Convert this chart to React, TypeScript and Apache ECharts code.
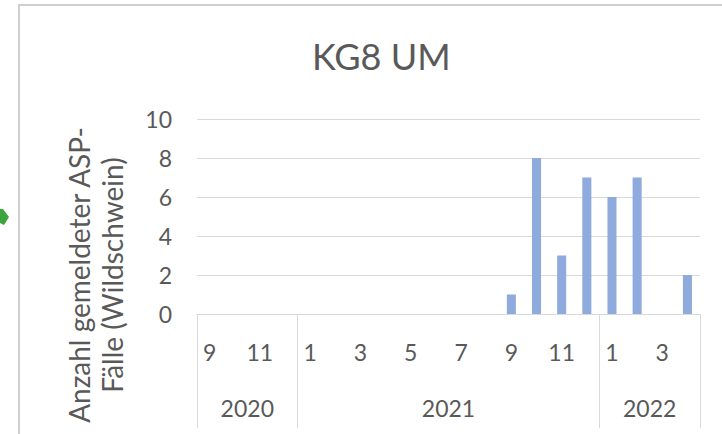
import React, { useEffect, useRef } from "react";
import * as echarts from "echarts";

// months of each category (Sept 2020 .. Apr 2022)
const months: string[] = [
  "9", "10", "11", "12",
  "1", "2", "3", "4", "5", "6", "7", "8", "9", "10", "11", "12",
  "1", "2", "3", "4",
];
const years: string[] = ["2020", "2021", "2022"];
const monthsPerYear: number[] = [4, 12, 4];
const cases: number[] = [
  0, 0, 0, 0,
  0, 0, 0, 0, 0, 0, 0, 0, 1, 8, 3, 7,
  6, 7, 0, 2,
];
const yMin = 0;
const yMax = 10;
const yInterval = 2;
const title = "KG8 UM";
const yTitle = "Anzahl gemeldeter ASP-\nFälle (Wildschwein)";

const FONT = "Lato, 'Open Sans', sans-serif";
const TEXT = "#595959";
const GRID = "#D9D9D9";

export default function App() {
  const ref = useRef<HTMLDivElement>(null);
  useEffect(() => {
    document.body.style.margin = "0";
    if (!ref.current) return;
    const chart = echarts.init(ref.current, undefined, { renderer: "svg" });

    // year boundaries and centres (in category units)
    const bounds: number[] = [0];
    const centres: number[] = [];
    monthsPerYear.forEach((n, i) => {
      centres.push(bounds[i] + n / 2);
      bounds.push(bounds[i] + n);
    });
    const total = bounds[bounds.length - 1];

    chart.setOption({
      animation: false,
      backgroundColor: "#ffffff",
      textStyle: { fontFamily: FONT },
      title: {
        text: title,
        left: 307,
        top: 33,
        textStyle: { color: TEXT, fontSize: 36, fontWeight: "normal", fontFamily: FONT },
      },
      grid: { left: 197, right: 22, top: 119, bottom: 120, containLabel: false },
      xAxis: [
        {
          type: "category",
          data: months,
          position: "bottom",
          boundaryGap: true,
          axisLine: { show: true, lineStyle: { color: GRID, width: 1 } },
          axisTick: { show: false },
          axisLabel: { interval: 1, color: TEXT, fontSize: 23, margin: 26, fontFamily: FONT },
          splitLine: { show: false },
        },
        {
          type: "value",
          min: 0,
          max: total,
          position: "bottom",
          axisLine: { show: false },
          splitLine: { show: false },
          axisTick: {
            show: true,
            customValues: bounds,
            length: 114,
            lineStyle: { color: GRID, width: 1 },
          },
          axisLabel: {
            show: true,
            customValues: centres,
            margin: 82,
            color: TEXT,
            fontSize: 23,
            fontFamily: FONT,
            formatter: (v: number) => {
              const i = centres.indexOf(v);
              return i >= 0 ? years[i] : "";
            },
          },
        },
      ],
      yAxis: {
        type: "value",
        min: yMin,
        max: yMax,
        interval: yInterval,
        axisLine: { show: false },
        axisTick: { show: false },
        axisLabel: { color: TEXT, fontSize: 23, margin: 25, fontFamily: FONT },
        splitLine: { show: true, lineStyle: { color: GRID, width: 1 } },
      },
      series: [
        {
          type: "bar",
          xAxisIndex: 0,
          yAxisIndex: 0,
          data: cases,
          barWidth: "36%",
          itemStyle: { color: "#8FAADC" },
        },
      ],
      graphic: [
        {
          type: "rect",
          z: -10,
          shape: { x: 19, y: 5, width: 720, height: 440 },
          style: { fill: "none", stroke: "#CFCFCF", lineWidth: 2 },
        },
        {
          type: "polygon",
          shape: { points: [[0, 209], [3, 209], [9, 217], [4, 225], [0, 223]] },
          style: { fill: "#3BA53B" },
        },
        {
          type: "text",
          x: 95,
          y: 275,
          rotation: Math.PI / 2,
          style: {
            text: yTitle,
            fill: TEXT,
            fontSize: 28,
            fontFamily: FONT,
            align: "center",
            verticalAlign: "middle",
            lineHeight: 33,
          },
        },
      ],
    });
    return () => chart.dispose();
  }, []);
  return <div ref={ref} style={{ width: 722, height: 434 }} />;
}
